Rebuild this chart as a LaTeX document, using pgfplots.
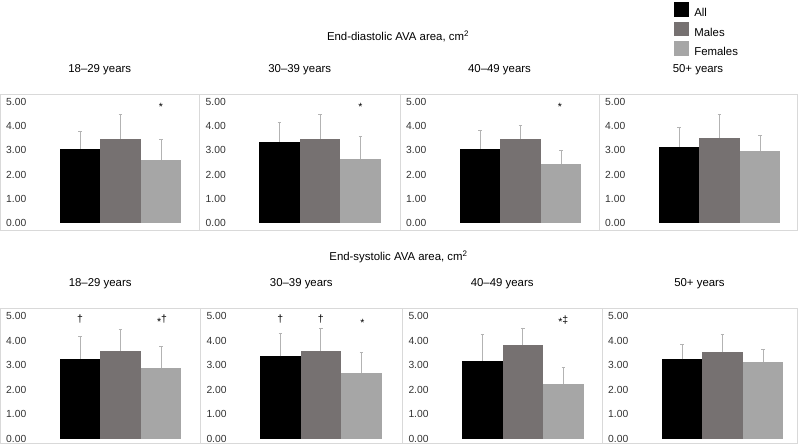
\documentclass[border=0pt]{standalone}
\usepackage{pgfplots}
\pgfplotsset{compat=1.18}
\usepackage{fontspec}
\setmainfont{Liberation Sans}
\definecolor{cAll}{HTML}{000000}
\definecolor{cMale}{HTML}{767171}
\definecolor{cFem}{HTML}{A6A6A6}
\definecolor{framec}{HTML}{D9D9D9}
\definecolor{errc}{HTML}{B3B3B3}
\definecolor{tickc}{HTML}{333333}
\newcommand{\tfont}{\fontsize{11.4bp}{13bp}\selectfont}
\newcommand{\afont}{\fontsize{10.5bp}{12bp}\selectfont}
\pgfplotsset{
  pan/.style={
    scale only axis, anchor=north west, clip=false,
    axis line style={draw=framec, line width=0.9bp},
    xtick=\empty, ytick={0,1,2,3,4,5},
    major tick length=0pt,
    yticklabel style={anchor=west, inner sep=0pt, xshift=6bp,
      font=\fontsize{10.3bp}{12bp}\selectfont, text=tickc},
    /pgf/number format/.cd, fixed, fixed zerofill, precision=2,
      assume math mode=true, /pgfplots/.cd,
    title style={at={(0.5,1)}, anchor=base, yshift=16bp, font=\tfont},
  },
  toprow/.style={pan, ymin=-0.3, ymax=5.32, height=136.7bp},
  botrow/.style={pan, ymin=-0.18, ymax=5.3, height=134.8bp},
  mybar/.style={ybar, bar width=40.5, bar shift=0pt, draw=none, fill=#1,
    legend image code/.code={\fill[fill=#1] (0bp,-3.15bp) rectangle (14.5bp,11.35bp);},
    error bars/.cd, y dir=plus, y explicit,
    error bar style={draw=errc, line width=0.7bp},
    error mark options={rotate=90, mark size=1.8bp, draw=errc, line width=0.7bp}},
}
\newcommand{\bars}[6]{%
  \addplot[mybar=cAll] coordinates {(80,#1) +- (0,#2)};
  \addplot[mybar=cMale] coordinates {(120.5,#3) +- (0,#4)};
  \addplot[mybar=cFem] coordinates {(161,#5) +- (0,#6)};
}
\begin{document}
\begin{tikzpicture}
\useasboundingbox (0,0) rectangle (798bp,-446bp);
\node[anchor=base, font=\tfont] at (398bp,-40bp) {End-diastolic AVA area, cm\textsuperscript{2}};
\node[anchor=base, font=\tfont] at (398.5bp,-260.7bp) {End-systolic AVA area, cm\textsuperscript{2}};
% ---------------- top row ----------------
\begin{axis}[toprow, at={(0bp,-94bp)}, width=199.5bp, xmin=0, xmax=199.5, title={18–29 years}]
  \bars{3.07}{0.72}{3.49}{1.00}{2.62}{0.82}
  \node[anchor=base, font=\afont] at (axis cs:161,4.63) {*};
\end{axis}
\begin{axis}[toprow, at={(199.5bp,-94bp)}, width=200.5bp, xmin=0, xmax=200.5, title={30–39 years}]
  \bars{3.36}{0.80}{3.49}{0.98}{2.66}{0.91}
  \node[anchor=base, font=\afont] at (axis cs:161,4.63) {*};
\end{axis}
\begin{axis}[toprow, at={(400bp,-94bp)}, width=199bp, xmin=0, xmax=199, title={40–49 years}]
  \bars{3.06}{0.75}{3.47}{0.55}{2.46}{0.53}
  \node[anchor=base, font=\afont] at (axis cs:160,4.63) {*};
\end{axis}
\begin{axis}[toprow, at={(599bp,-94bp)}, width=198bp, xmin=0, xmax=198, title={50+ years},
  legend style={at={(0.3788,1.673)}, anchor=north west, draw=none, fill=none,
    inner sep=0pt, row sep=3.2bp, font=\tfont,
    /tikz/every odd column/.style={column sep=5.6bp}, nodes={inner sep=0pt}},
  legend cell align=left]
  \bars{3.14}{0.80}{3.51}{0.96}{2.99}{0.64}
  \legend{All, Males, Females}
\end{axis}
% ---------------- bottom row ----------------
\begin{axis}[botrow, at={(0bp,-308.5bp)}, width=200.3bp, xmin=0, xmax=200.3, title={18–29 years}]
  \bars{3.24}{0.94}{3.58}{0.87}{2.87}{0.89}
  \node[anchor=base, font=\afont] at (axis cs:80,4.72) {†};
  \node[anchor=base, font=\afont] at (axis cs:162,4.60) {*\raisebox{3.5bp}{†}};
\end{axis}
\begin{axis}[botrow, at={(200.3bp,-308.5bp)}, width=202bp, xmin=0, xmax=202, title={30–39 years}]
  \bars{3.35}{0.94}{3.59}{0.91}{2.68}{0.82}
  \node[anchor=base, font=\afont] at (axis cs:80,4.72) {†};
  \node[anchor=base, font=\afont] at (axis cs:120.5,4.72) {†};
  \node[anchor=base, font=\afont] at (axis cs:162,4.57) {*};
\end{axis}
\begin{axis}[botrow, at={(402.3bp,-308.5bp)}, width=199.7bp, xmin=0, xmax=199.7, title={40–49 years}]
  \bars{3.18}{1.07}{3.80}{0.71}{2.23}{0.67}
  \node[anchor=base, font=\afont] at (axis cs:161,4.60) {*\raisebox{2bp}{‡}};
\end{axis}
\begin{axis}[botrow, at={(602bp,-308.5bp)}, width=195bp, xmin=0, xmax=195, title={50+ years}]
  \bars{3.23}{0.61}{3.52}{0.71}{3.11}{0.52}
\end{axis}
\end{tikzpicture}
\end{document}
